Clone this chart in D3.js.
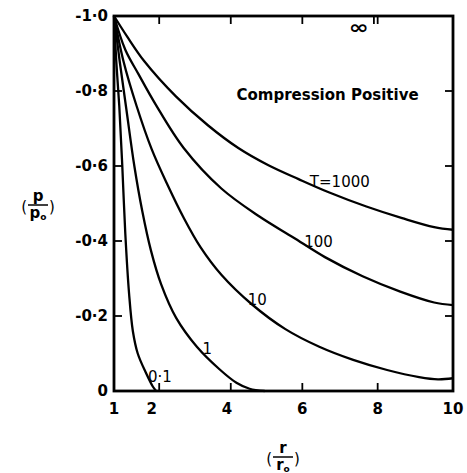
<!DOCTYPE html>
<html>
<head>
<meta charset="utf-8">
<script src="https://cdn.jsdelivr.net/npm/d3@7"></script>
<style>
  body { margin: 0; background: #fff; }
  svg { font-family: "DejaVu Sans", sans-serif; }
  .tick-label { font-size: 15px; font-weight: 600; fill: #000; }
  .note { font-size: 15px; fill: #000; }
</style>
</head>
<body>
<div id="chart"></div>
<script>
// tick values and labels
var xTickValues = [1, 2, 4, 6, 8, 10];
var xTickMarks = [2.2, 4.1, 6, 8];
var yTickValues = [0, -0.2, -0.4, -0.6, -0.8, -1.0];
var yTickLabels = ["0", "-0·2", "-0·4", "-0·6", "-0·8", "-1·0"];

// curve names
var curveNames = ["0·1", "1", "10", "100", "T=1000"];

// [r/ro, p/po]
var curve01 = [[1, -1], [1.06, -0.88], [1.14, -0.76], [1.22, -0.6], [1.3, -0.42],
  [1.4, -0.26], [1.5, -0.16], [1.63, -0.1], [1.85, -0.048], [2.03, -0.012], [2.12, 0]];
var curve1 = [[1, -1], [1.15, -0.88], [1.33, -0.75], [1.54, -0.6], [1.75, -0.48],
  [1.98, -0.375], [2.25, -0.285], [2.65, -0.195], [3.2, -0.118], [3.8, -0.058],
  [4.25, -0.022], [4.6, -0.006], [5.0, 0]];
var curve10 = [[1, -1], [1.25, -0.88], [1.6, -0.76], [2.0, -0.645], [2.42, -0.55],
  [2.85, -0.462], [3.3, -0.383], [3.85, -0.31], [4.65, -0.232], [5.55, -0.165],
  [6.45, -0.118], [7.35, -0.083], [8.25, -0.056], [9.1, -0.037], [9.6, -0.031], [10, -0.034]];
var curve100 = [[1, -1], [1.3, -0.91], [1.65, -0.845], [2.1, -0.765], [2.85, -0.648],
  [3.85, -0.54], [4.85, -0.466], [5.75, -0.41], [6.6, -0.357],
  [7.6, -0.306], [8.6, -0.265], [9.5, -0.236], [10, -0.229]];
var curve1000 = [[1, -1], [1.35, -0.945], [1.8, -0.88], [2.65, -0.785], [3.5, -0.708],
  [4.3, -0.648], [5.1, -0.602], [5.9, -0.565], [6.7, -0.53], [7.7, -0.492],
  [8.65, -0.461], [9.5, -0.437], [10, -0.43]];

var svgWidth = 467;
var svgHeight = 473;

var svg = d3.select("#chart")
  .append("svg")
    .attr("width", svgWidth)
    .attr("height", svgHeight);

var margin = { top: 16, left: 114, right: 14, bottom: 82 };
var width = svgWidth - margin.left - margin.right;
var height = svgHeight - margin.top - margin.bottom;

var x = d3.scaleLinear().domain([1, 10]).range([0, width]);
var y = d3.scaleLinear().domain([0, -1]).range([height, 0]);

var g = svg.append("g")
  .attr("transform", `translate(${margin.left},${margin.top})`);

// curves
var line = d3.line()
  .x(d => x(d[0]))
  .y(d => y(d[1]))
  .curve(d3.curveCatmullRom.alpha(0.5));

var curves = [curve01, curve1, curve10, curve100, curve1000];
g.selectAll(".curve").data(curves)
  .enter().append("path")
    .attr("class", "curve")
    .attr("d", line)
    .attr("fill", "none")
    .attr("stroke", "#000")
    .attr("stroke-width", 2.3);

// frame
g.append("rect")
  .attr("width", width)
  .attr("height", height)
  .attr("fill", "none")
  .attr("stroke", "#000")
  .attr("stroke-width", 2.8);

// inward ticks on all four sides
var tickLen = 8;
var yInner = yTickValues.filter(v => v != 0 && v != -1);
g.selectAll(".ytl").data(yInner).enter().append("line")
  .attr("x1", 0).attr("x2", tickLen)
  .attr("y1", d => y(d)).attr("y2", d => y(d));
g.selectAll(".ytr").data(yInner).enter().append("line")
  .attr("x1", width).attr("x2", width - tickLen)
  .attr("y1", d => y(d)).attr("y2", d => y(d));
g.selectAll(".xtb").data(xTickMarks).enter().append("line")
  .attr("x1", d => x(d)).attr("x2", d => x(d))
  .attr("y1", height).attr("y2", height - tickLen);
g.selectAll(".xtt").data(xTickMarks.concat([7.9])).enter().append("line")
  .attr("x1", d => x(d)).attr("x2", d => x(d))
  .attr("y1", 0).attr("y2", tickLen);
g.selectAll("line").attr("stroke", "#000").attr("stroke-width", 1.8);

// tick labels
g.selectAll(".ylab").data(yTickValues).enter().append("text")
  .attr("class", "tick-label")
  .attr("x", -6)
  .attr("y", d => y(d) + 5)
  .attr("text-anchor", "end")
  .text((d, i) => yTickLabels[i]);

g.selectAll(".xlab").data(xTickValues).enter().append("text")
  .attr("class", "tick-label")
  .attr("x", d => x(d))
  .attr("y", height + 23)
  .attr("text-anchor", "middle")
  .text(d => d);

// curve labels
var labelAt = [[1.9, -0.024], [3.35, -0.1], [4.55, -0.23], [6.05, -0.385], [6.2, -0.545]];
g.selectAll(".clab").data(curveNames).enter().append("text")
  .attr("class", "note")
  .attr("x", (d, i) => x(labelAt[i][0]))
  .attr("y", (d, i) => y(labelAt[i][1]))
  .text(d => d);

// infinity marker, drawn stretched
g.append("text")
  .attr("class", "note")
  .attr("transform", `translate(${x(7.5)},${y(-0.952)}) scale(1.6,1.3)`)
  .attr("text-anchor", "middle")
  .attr("font-size", "20px")
  .attr("font-weight", "bold")
  .text("∞");

g.append("text")
  .attr("class", "note")
  .attr("x", x(6.67))
  .attr("y", y(-0.775))
  .attr("text-anchor", "middle")
  .attr("font-size", "16px")
  .attr("font-weight", "bold")
  .text("Compression Positive");

// axis labels drawn as fractions
function fraction(cx, cy, top, bottom) {
  var f = svg.append("g").attr("transform", `translate(${cx},${cy})`);
  f.append("text").attr("class", "note").attr("font-size", "20px").attr("x", -11).attr("y", 7)
    .attr("text-anchor", "end").text("(");
  f.append("text").attr("class", "note").attr("font-size", "20px").attr("x", 11).attr("y", 7).text(")");
  f.append("line").attr("x1", -10).attr("x2", 10).attr("y1", 0).attr("y2", 0)
    .attr("stroke", "#000").attr("stroke-width", 1.5);
  f.append("text").attr("class", "note").attr("font-size", "13px").attr("font-weight", "bold")
    .attr("text-anchor", "middle").attr("y", -4).text(top);
  var b = f.append("text").attr("class", "note").attr("font-size", "13px").attr("font-weight", "bold")
    .attr("text-anchor", "middle").attr("y", 13);
  b.append("tspan").text(bottom);
  b.append("tspan").attr("font-size", "9px").attr("dy", 2).text("o");
}

fraction(38, 205, "p", "p");
fraction(283, 457, "r", "r");
</script>
</body>
</html>
